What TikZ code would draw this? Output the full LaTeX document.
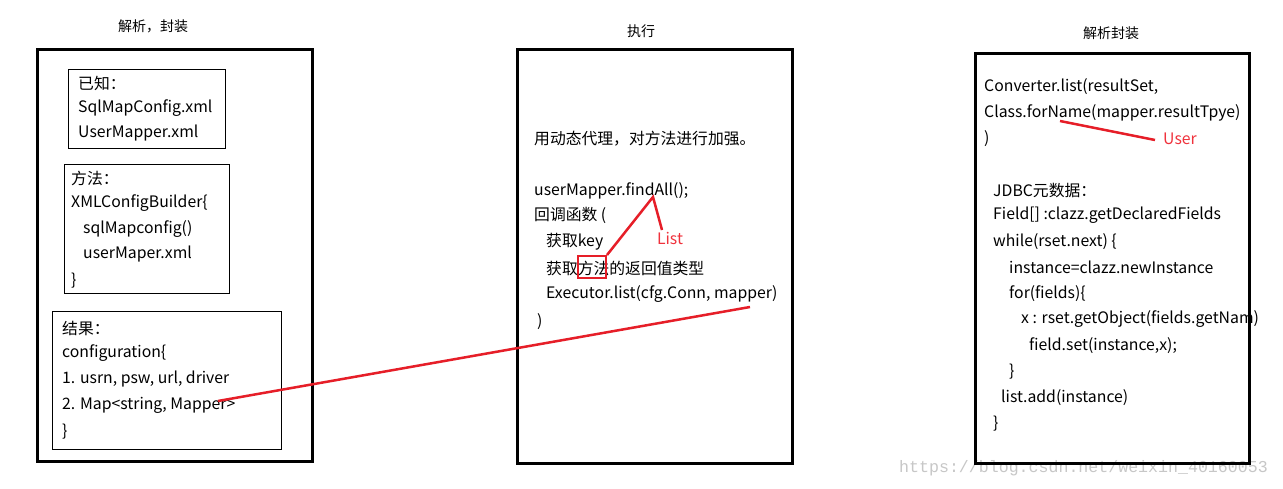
\documentclass[tikz,border=0pt]{standalone}
\usepackage{fontspec}
\setmainfont{Noto Sans CJK SC}
\newfontfamily\wmfont{Liberation Mono}
\begin{document}
\begin{tikzpicture}[x=1pt,y=-1pt,
  txt/.style={anchor=west,inner sep=0pt,yshift=-1.5pt,font=\fontsize{15.8}{18}\selectfont},
  ttl/.style={inner sep=0pt,font=\fontsize{14}{17}\selectfont},
  bigbox/.style={draw,line width=3pt},
  smallbox/.style={draw,line width=1pt},
  redline/.style={draw={rgb,255:red,230;green,30;blue,40},line width=2.5pt},
  redtxt/.style={inner sep=0pt,text={rgb,255:red,240;green,50;blue,60},font=\fontsize{15.8}{18}\selectfont}]
\useasboundingbox (0,0) rectangle (1283,489);
\fill[white] (0,0) rectangle (1283,489);
% watermark
\node[inner sep=0pt,anchor=west,text=black!22,font=\wmfont\fontsize{16.6}{20}\selectfont] (wm) at (899,468) {https://blog.csdn.net/weixin\_40160053};
% ---------- box 1
\node[ttl] (t1) at (153,26) {解析，封装};
\draw[bigbox] (37,50) rectangle (312,461);
\draw[smallbox] (68,70) rectangle (225,149);
\node[txt] (a1) at (78,82) {已知：};
\node[txt] (a2) at (78,107) {SqlMapConfig.xml};
\node[txt] (a3) at (78,132) {UserMapper.xml};
\draw[smallbox] (64,165) rectangle (229,293);
\node[txt] (b1) at (71,177) {方法：};
\node[txt] (b2) at (71,202) {XMLConfigBuilder\{};
\node[txt] (b3) at (83,228) {sqlMapconfig()};
\node[txt] (b4) at (83,253) {userMaper.xml};
\node[txt] (b5) at (71,279) {\}};
\draw[smallbox] (52,311) rectangle (281,449);
\node[txt] (c1) at (62,327) {结果：};
\node[txt] (c2) at (62,352) {configuration\{};
\node[txt] (c3) at (62,378) {1. usrn, psw, url, driver};
\node[txt] (c4) at (62,404) {2. Map<string, Mapper>};
\node[txt] (c5) at (62,430) {\}};
% ---------- box 2
\node[ttl] (t2) at (641,31) {执行};
\draw[bigbox] (517,50) rectangle (792,463);
\node[txt] (d1) at (534,137) {用动态代理，对方法进行加强。};
\node[txt] (d2) at (534,189) {userMapper.findAll();};
\node[txt] (d3) at (534,214) {回调函数 (};
\node[txt] (d4) at (546,240) {获取key};
\node[txt] (d5) at (546,267) {获取方法的返回值类型};
\node[txt] (d6) at (546,293) {Executor.list(cfg.Conn, mapper)};
\node[txt] (d7) at (537,320) {)};
\node[redtxt] (list) at (670,238) {List};
\node[draw={rgb,255:red,230;green,30;blue,40},line width=2pt,minimum width=28pt,minimum height=22pt,inner sep=0pt] (rb) at (592,267) {};
\coordinate (fa) at (653,197);
\coordinate (fl) at (662,230);
\draw[redline] (rb.north east) -- (fa) -- (fl);
\coordinate (ex) at (750,307);
\coordinate (mp) at (218,401);
\draw[redline] (ex) -- (mp);
% ---------- box 3
\node[ttl] (t3) at (1111,33) {解析封装};
\node[txt] (e1) at (984,85) {Converter.list(resultSet,};
\node[txt] (e2) at (984,111) {Class.forName(mapper.resultTpye)};
\node[txt] (e3) at (984,137) {)};
\node[txt] (e4) at (993,189) {JDBC元数据：};
\node[txt] (e5) at (993,214) {Field[] :clazz.getDeclaredFields};
\node[txt] (e6) at (993,240) {while(rset.next) \{};
\node[txt] (e7) at (1009,266) {instance=clazz.newInstance};
\node[txt] (e8) at (1009,292) {for(fields)\{};
\node[txt] (e9) at (1021,318) {x : rset.getObject(fields.getNam)};
\node[txt] (e10) at (1029,344) {field.set(instance,x);};
\node[txt] (e11) at (1009,370) {\}};
\node[txt] (e12) at (1001,396) {list.add(instance)};
\node[txt] (e13) at (993,422) {\}};
\draw[bigbox] (975,54) rectangle (1249,463);
\node[redtxt] (user) at (1180,139) {User};
\coordinate (fn) at (1060,121);
\coordinate (ue) at (1155,140);
\draw[redline] (fn) -- (ue);
\end{tikzpicture}
\end{document}
